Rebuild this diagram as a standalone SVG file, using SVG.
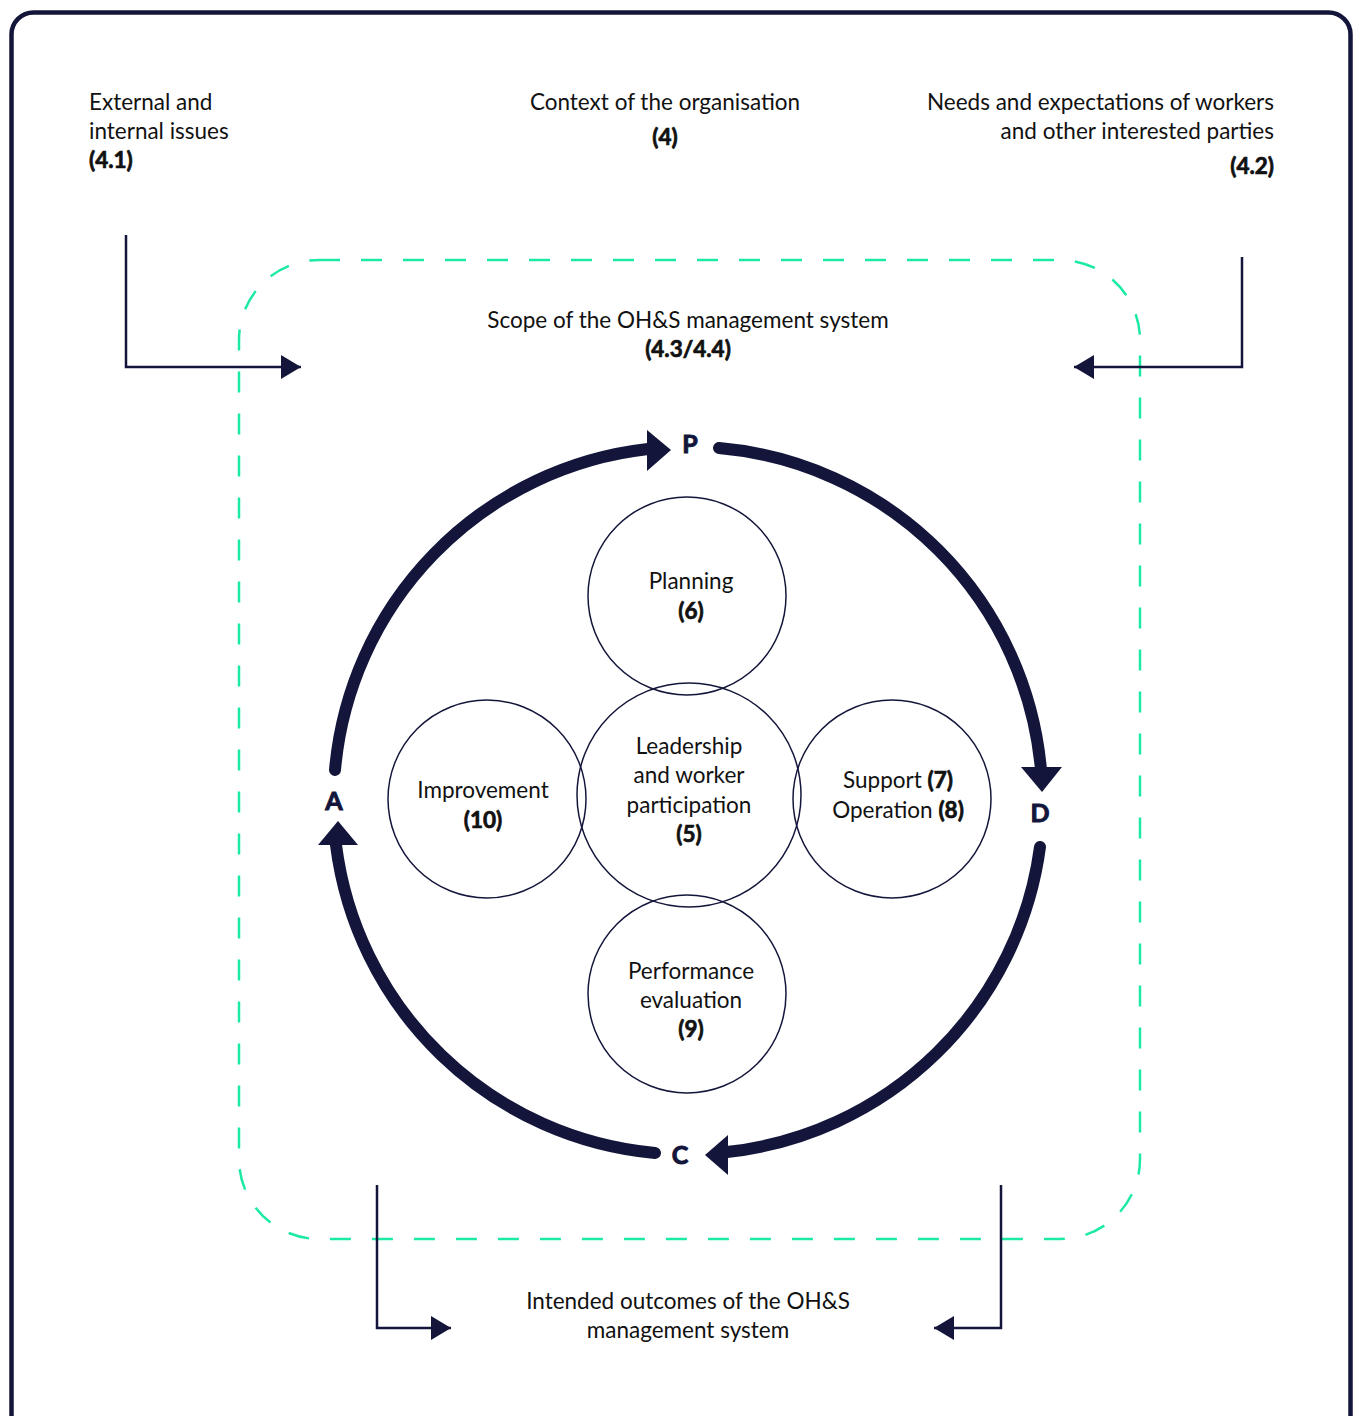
<svg xmlns="http://www.w3.org/2000/svg" width="1355" height="1416" viewBox="0 0 1355 1416">
<defs>
<style>
.t{font-family:Lato,"Noto Sans","Liberation Sans",sans-serif;font-size:22.5px;fill:#111;}
.b{font-weight:bold;stroke:#111;stroke-width:0.7px;}
.m{text-anchor:middle;}
.e{text-anchor:end;}
.lbl{font-family:Lato,"Noto Sans","Liberation Sans",sans-serif;font-size:25px;font-weight:bold;fill:#13163a;stroke:#13163a;stroke-width:1px;text-anchor:middle;}
.node{fill:none;stroke:#13163a;stroke-width:1.5;}
.conn{fill:none;stroke:#13163a;stroke-width:2.5;}
.arc{fill:none;stroke:#13163a;stroke-width:12;stroke-linecap:round;}
.head{fill:#13163a;}
</style>
<marker id="ah" markerUnits="userSpaceOnUse" markerWidth="22" markerHeight="26" refX="20" refY="12" orient="auto">
<path d="M0,0 L20,12 L0,24 z" fill="#13163a"/>
</marker>
</defs>
<rect x="0" y="0" width="1355" height="1416" fill="#ffffff"/>
<rect x="11.5" y="12.5" width="1339" height="1430" rx="22" fill="none" stroke="#13163a" stroke-width="4.5"/>
<g id="scope">
<rect x="239" y="260" width="901" height="979" rx="80" fill="none" stroke="#1de9a6" stroke-width="2.5" stroke-dasharray="21 21"/>
<text class="t m" x="688" y="328">Scope of the OH&amp;S management system</text>
<text class="t m b" x="688" y="357">(4.3/4.4)</text>
</g>
<g id="external">
<text class="t" x="89" y="110">External and</text>
<text class="t" x="89" y="139">internal issues</text>
<text class="t b" x="89" y="168">(4.1)</text>
</g>
<g id="context">
<text class="t m" x="665" y="110">Context of the organisation</text>
<text class="t m b" x="665" y="145">(4)</text>
</g>
<g id="needs">
<text class="t e" x="1274" y="110">Needs and expectations of workers</text>
<text class="t e" x="1274" y="139">and other interested parties</text>
<text class="t e b" x="1274" y="174">(4.2)</text>
</g>
<g id="outcomes">
<text class="t m" x="688" y="1309">Intended outcomes of the OH&amp;S</text>
<text class="t m" x="688" y="1338">management system</text>
</g>
<g id="connectors">
<path class="conn" d="M126,235 V367 H301" marker-end="url(#ah)"/>
<path class="conn" d="M1242,257 V367 H1074" marker-end="url(#ah)"/>
<path class="conn" d="M377,1185 V1328 H451" marker-end="url(#ah)"/>
<path class="conn" d="M1001,1185 V1328 H934" marker-end="url(#ah)"/>
</g>
<g id="pdca">
<path class="arc" d="M719,448 A354,354 0 0 1 1041,770"/>
<polygon class="head" points="1021,767 1062,767 1042,792"/>
<path class="arc" d="M1040,847 A354,354 0 0 1 727,1152"/>
<polygon class="head" points="728,1135 728,1175 705,1155"/>
<path class="arc" d="M655,1153 A354,354 0 0 1 336,845"/>
<polygon class="head" points="318,845 358,845 338,821"/>
<path class="arc" d="M335,770 A354,354 0 0 1 648,449"/>
<polygon class="head" points="647,430 647,471 671,450"/>
<text class="lbl" x="690" y="453">P</text>
<text class="lbl" x="1040" y="822">D</text>
<text class="lbl" x="680" y="1164">C</text>
<text class="lbl" x="334" y="810">A</text>
</g>
<g id="planning">
<circle class="node" cx="687" cy="596" r="99"/>
<text class="t m" x="691" y="589">Planning</text>
<text class="t m b" x="691" y="619">(6)</text>
</g>
<g id="leadership">
<circle class="node" cx="689" cy="795" r="112"/>
<text class="t m" x="689" y="754">Leadership</text>
<text class="t m" x="689" y="783">and worker</text>
<text class="t m" x="689" y="813">participation</text>
<text class="t m b" x="689" y="842">(5)</text>
</g>
<g id="improvement">
<circle class="node" cx="487" cy="799" r="99"/>
<text class="t m" x="483" y="798">Improvement</text>
<text class="t m b" x="483" y="828">(10)</text>
</g>
<g id="support">
<circle class="node" cx="892" cy="799" r="99"/>
<text class="t m" x="898" y="788">Support <tspan class="b">(7)</tspan></text>
<text class="t m" x="898" y="818">Operation <tspan class="b">(8)</tspan></text>
</g>
<g id="performance">
<circle class="node" cx="687" cy="994" r="99"/>
<text class="t m" x="691" y="979">Performance</text>
<text class="t m" x="691" y="1008">evaluation</text>
<text class="t m b" x="691" y="1037">(9)</text>
</g>
</svg>
